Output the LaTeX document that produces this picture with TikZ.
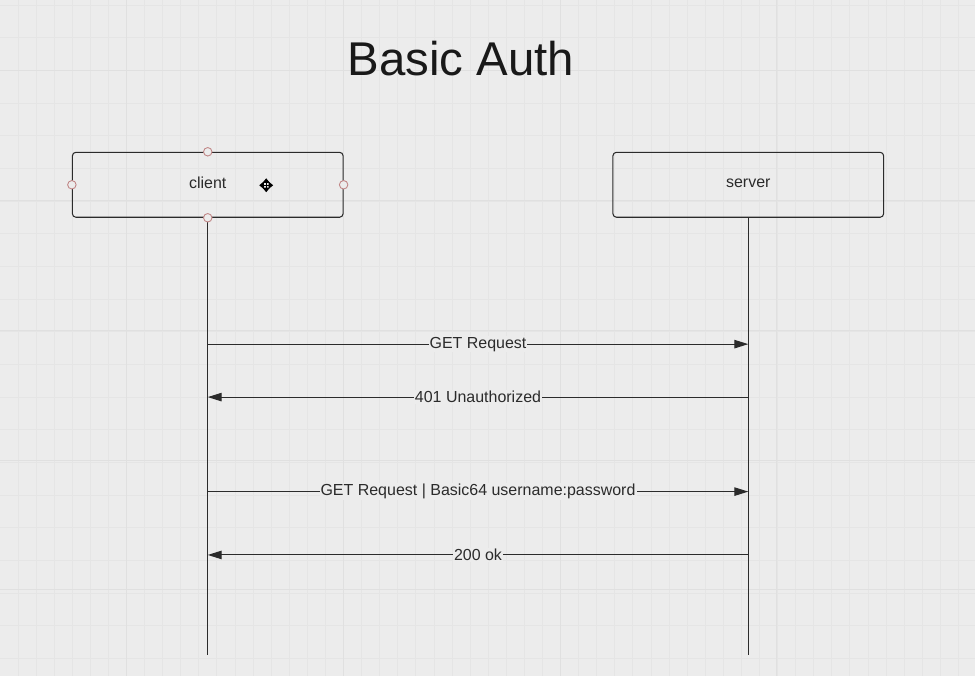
\documentclass[tikz,border=0pt]{standalone}
\usepackage{fontspec}
\setmainfont{Liberation Sans}
\usepackage{tikz}
\usetikzlibrary{positioning}
\usetikzlibrary{arrows.meta}
\usepackage{xcolor}
\definecolor{paper}{HTML}{ECECEC}
\definecolor{gridminor}{HTML}{E5E5E5}
\definecolor{gridmajor}{HTML}{E0E0E0}
\definecolor{ink}{HTML}{2B2B2B}
\definecolor{handle}{HTML}{C08585}

\begin{document}
\begin{tikzpicture}[x=0.02cm, y=-0.02cm,
	actor/.style={draw=ink, line width=0.6pt, rounded corners=2pt, minimum width=5.42cm, minimum height=1.3cm, inner sep=0pt, font=\fontsize{9.1}{11}\selectfont, text=ink},
	lifeline/.style={draw=ink, line width=0.6pt},
	msg/.style={draw=ink, line width=0.6pt, -{Triangle[length=0.28cm, width=0.17cm]}},
	msglabel/.style={fill=paper, inner sep=0.6pt, font=\fontsize{9.1}{11}\selectfont, text=ink},
	grip/.style={circle, draw=handle, fill=paper, line width=0.5pt, minimum size=0.17cm, inner sep=0pt}]
	    		\fill[paper] (0,0) rectangle (975,676);
	    		\foreach \gx in {17.5,35.6,...,975} \draw[gridminor, line width=0.4pt] (\gx,0)--(\gx,676);
	    		\foreach \gy in {4.5,37.2,...,676} \draw[gridminor, line width=0.4pt] (0,\gy)--(975,\gy);
	    		\foreach \gx in {126,343,560,777} \draw[gridmajor, line width=0.5pt] (\gx,0)--(\gx,676);
	    		\foreach \gy in {70,200,330,460,590} \draw[gridmajor, line width=0.5pt] (0,\gy)--(975,\gy);
	    		\node[font=\fontsize{27}{32}\selectfont, text=black!90] (title) at (461,58) {Basic Auth};
	    		\node[actor] (client) at (207.5,184.5) {\raisebox{2pt}{client}};
	    		\node[actor] (server) at (748.5,184.5) {\raisebox{2pt}{server}};
	    		\coordinate (clientend) at (207.5,655);
	    		\coordinate (serverend) at (748.5,655);
	    		\draw[lifeline] (client.south)--(clientend);
	    		\draw[lifeline] (server.south)--(serverend);
	    		\coordinate (c1) at (207.5,344); \coordinate (s1) at (748.5,344);
	    		\coordinate (c2) at (207.5,397); \coordinate (s2) at (748.5,397);
	    		\coordinate (c3) at (207.5,491.6); \coordinate (s3) at (748.5,491.6);
	    		\coordinate (c4) at (207.5,555); \coordinate (s4) at (748.5,555);
	    		\draw[msg] (c1)--(s1) node[midway, msglabel] (get) {GET Request};
	    		\draw[msg] (s2)--(c2) node[midway, msglabel] (denied) {401 Unauthorized};
	    		\draw[msg] (c3)--(s3) node[midway, msglabel] (getauth) {GET Request | Basic64 username:password};
	    		\draw[msg] (s4)--(c4) node[midway, msglabel] (okay) {200 ok};
	    		\node[grip] (griptop) at (client.north) {};
	    		\node[grip] (gripbottom) at (client.south) {};
	    		\node[grip] (gripleft) at (client.west) {};
	    		\node[grip] (gripright) at (client.east) {};
	    		\coordinate (grab) at (266,185);
	    		\draw[black, line width=0.8pt, {Triangle[length=2.6pt, width=4pt]}-{Triangle[length=2.6pt, width=4pt]}] (grab) ++(-7,0)--++(14,0);
	    		\draw[black, line width=0.8pt, {Triangle[length=2.6pt, width=4pt]}-{Triangle[length=2.6pt, width=4pt]}] (grab) ++(0,-7)--++(0,14);
			\end{tikzpicture}
\end{document}
